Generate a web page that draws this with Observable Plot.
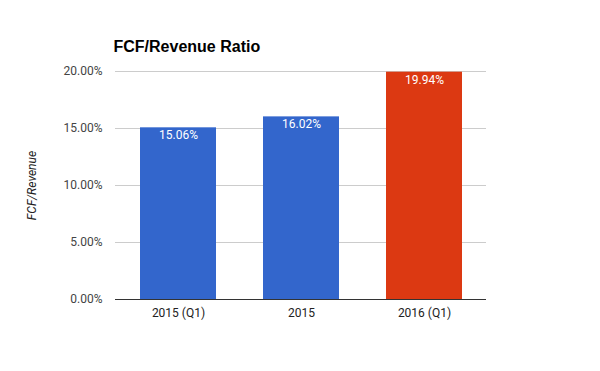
<!DOCTYPE html>
<html>
<head>
<meta charset="utf-8">
<script src="https://cdn.jsdelivr.net/npm/d3@7"></script>
<script src="https://cdn.jsdelivr.net/npm/@observablehq/plot@0.6"></script>
<style>
  html, body { margin: 0; padding: 0; background: #fff; }
  #chart svg { display: block; }
</style>
</head>
<body>
<div id="chart"></div>
<script>
const categories = ["2015 (Q1)", "2015", "2016 (Q1)"];
const values = [15.06, 16.02, 19.94];
const barColors = ["#3366CC", "#3366CC", "#DC3912"];
const yTicks = [0, 5, 10, 15, 20];
const title = "FCF/Revenue Ratio";
const yLabel = "FCF/Revenue";

const data = categories.map((c, i) => ({ cat: c, value: values[i], color: barColors[i] }));

const chart = Plot.plot({
  width: 600,
  height: 371,
  marginLeft: 115,
  marginRight: 114,
  marginTop: 71,
  marginBottom: 72,
  style: { fontFamily: "Roboto, sans-serif", fontSize: "12px", color: "#444", background: "#fff" },
  x: { domain: categories, paddingInner: 0.386, paddingOuter: 0.193, label: null },
  y: { domain: [0, 20], label: null },
  marks: [
    Plot.gridY(yTicks.filter(t => t > 0), { stroke: "#cccccc", strokeOpacity: 1, strokeWidth: 1 }),
    Plot.barY(data, { x: "cat", y: "value", fill: "color" }),
    Plot.ruleY([0], { stroke: "#333333", strokeWidth: 1 }),
    Plot.axisX({ tickSize: 0, tickPadding: 9, fill: "#222", fontSize: 12 }),
    Plot.axisY(yTicks, { tickSize: 0, tickPadding: 13, fill: "#444", fontSize: 12,
      tickFormat: d => d.toFixed(2) + "%" }),
    Plot.text(data, { x: "cat", y: "value", text: d => d.value.toFixed(2) + "%",
      fill: "white", lineAnchor: "top", dy: 3, fontSize: 12, letterSpacing: "0.3px" }),
    Plot.text([title], { frameAnchor: "top-left", textAnchor: "start", lineAnchor: "bottom",
      dy: -20, dx: -2, fontSize: 16, fontWeight: "bold", fill: "#000",
      fontFamily: "Arial, 'Liberation Sans', sans-serif" }),
    Plot.text([yLabel], { frameAnchor: "left", rotate: -90, dx: -83, fontSize: 12,
      fontStyle: "italic", fill: "#222", textAnchor: "middle" })
  ]
});
document.getElementById("chart").append(chart);
</script>
</body>
</html>
